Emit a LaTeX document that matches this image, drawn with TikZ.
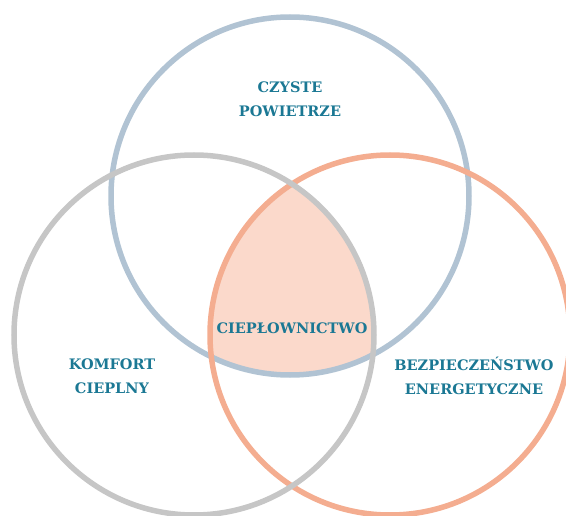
\documentclass[tikz,border=0pt]{standalone}
\usepackage{fontspec}
\setmainfont{DejaVu Serif}
\definecolor{ringblue}{HTML}{B1C3D3}
\definecolor{ringgray}{HTML}{C6C6C6}
\definecolor{ringorange}{HTML}{F4AD90}
\definecolor{corefill}{HTML}{FBD9CB}
\definecolor{labelteal}{HTML}{1B7894}
\begin{document}
\begin{tikzpicture}[x=1pt,y=-1pt,
        ring/.style={line width=5.5pt},
        lbl/.style={font=\bfseries\fontsize{14.5}{24}\selectfont,text=labelteal,align=center}] % three rings
        \useasboundingbox (0,0) rectangle (566,516);
        \begin{scope}
                \clip (290,196) circle (179pt);
                \clip (194,335) circle (180pt);
                \fill[corefill] (390,335) circle (180pt);
        \end{scope}
        \draw[ring,ringblue] (290,196) circle (179pt);
        \draw[ring,ringorange] (390,335) circle (180pt);
        \draw[ring,ringgray] (194,335) circle (180pt);
        \node[lbl] (air) at (290,99) {CZYSTE\\POWIETRZE};
        \node[lbl] (heat) at (292,328) {CIEPŁOWNICTWO};
        \node[lbl] (comfort) at (112,376) {KOMFORT\\CIEPLNY};
        \node[lbl] (energy) at (474,376) {BEZPIECZEŃSTWO\\ENERGETYCZNE};
\end{tikzpicture}
\end{document}
